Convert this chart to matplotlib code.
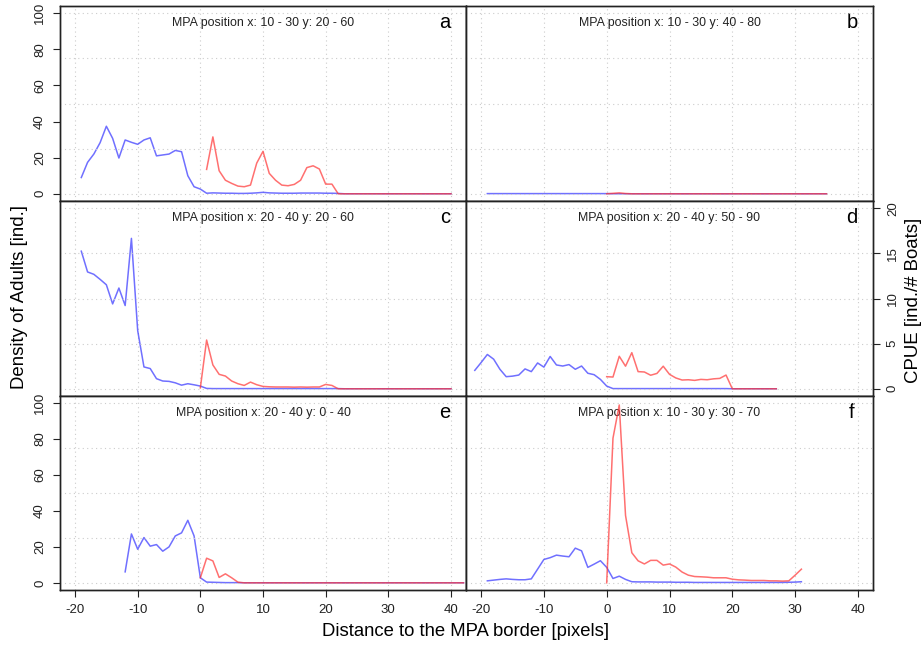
import numpy as np
import matplotlib
matplotlib.use("Agg")
import matplotlib.pyplot as plt

plt.rcParams['font.family'] = ['Liberation Sans', 'DejaVu Sans']

# ---------------- data ----------------
panel_letters = ["a", "b", "c", "d", "e", "f"]
panel_titles = [
    "MPA position x: 10 - 30 y: 20 - 60",
    "MPA position x: 10 - 30 y: 40 - 80",
    "MPA position x: 20 - 40 y: 20 - 60",
    "MPA position x: 20 - 40 y: 50 - 90",
    "MPA position x: 20 - 40 y: 0 - 40",
    "MPA position x: 10 - 30 y: 30 - 70",
]

# density of adults (left axis) : start distance + values
dens_a_start = -19
dens_a = [9, 17.4, 22, 28.3, 37.4, 30.7, 19.8, 29.8, 28.5, 27.4, 29.8, 31, 21, 21.5, 22, 24, 23.3, 10, 3.9, 2.6,
          0.3, 0.5, 0.4, 0.3, 0.3, 0.2, 0.2, 0.3, 0.5, 0.8, 0.5, 0.4, 0.3, 0.3, 0.3, 0.4, 0.4, 0.4, 0.4, 0.3, 0.3, 0.2,
          0, 0, 0, 0, 0, 0, 0, 0, 0, 0, 0, 0, 0, 0, 0, 0, 0, 0]
cpue_a_start = 1
cpue_a = [2.7, 6.3, 2.55, 1.5, 1.15, 0.85, 0.78, 0.96, 3.4, 4.7, 2.26, 1.5, 0.96, 0.89, 1.04, 1.5, 2.9, 3.1, 2.74,
          1.07, 1.07, 0, 0, 0, 0, 0, 0, 0, 0, 0, 0, 0, 0, 0, 0, 0, 0, 0, 0, 0]

dens_b_start = -19
dens_b = [0.1, 0.1, 0.1, 0.1, 0.1, 0.1, 0.1, 0.1, 0.1, 0.1, 0.1, 0.1, 0.1, 0.1, 0.1, 0.1, 0.1, 0.1, 0.1, 0.1,
          0, 0, 0, 0, 0, 0, 0, 0, 0, 0, 0, 0, 0, 0, 0, 0, 0, 0, 0, 0, 0, 0, 0, 0, 0, 0, 0, 0, 0, 0, 0, 0, 0, 0, 0]
cpue_b_start = 0
cpue_b = [0, 0.05, 0.1, 0.03, 0, 0, 0, 0, 0, 0, 0, 0, 0, 0, 0, 0, 0, 0, 0, 0, 0, 0, 0, 0, 0, 0, 0, 0, 0, 0,
          0, 0, 0, 0, 0, 0]

dens_c_start = -19
dens_c = [76.2, 64.7, 63.4, 60.6, 57.6, 47, 55.8, 46.1, 83.3, 32.2, 12.1, 11.2, 5.6, 4.3, 4.1, 3.3, 2.0, 2.8, 2.2,
          1.5, 0.2, 0.1, 0.1, 0.1, 0.1, 0.1, 0.1, 0.1, 0.1, 0.1, 0.1, 0.1, 0.1, 0.1, 0.1, 0.1, 0.1, 0.1, 0.1, 0.1,
          0.1, 0.1, 0, 0, 0, 0, 0, 0, 0, 0, 0, 0, 0, 0, 0, 0, 0, 0, 0, 0]
cpue_c_start = 0
cpue_c = [0.1, 5.4, 2.64, 1.6, 1.41, 0.86, 0.56, 0.37, 0.74, 0.45, 0.26, 0.22, 0.2, 0.2, 0.2, 0.18, 0.2, 0.18,
          0.2, 0.2, 0.48, 0.37, 0, 0, 0, 0, 0, 0, 0, 0, 0, 0, 0, 0, 0, 0, 0, 0, 0, 0, 0]

dens_d_start = -21
dens_d = [10.2, 14.5, 19, 16.4, 10.8, 6.7, 7, 7.6, 11, 9.5, 14.3, 12, 17.9, 13.2, 12.6, 13.4, 10.8, 12.6, 8.6, 7.8,
          5.2, 1.5, 0.1, 0.1, 0.1, 0.1, 0.1, 0.1, 0.1, 0.1, 0.1, 0.1, 0.1, 0.1, 0.1, 0.1, 0.1, 0.1, 0.1, 0.1, 0.1,
          0, 0, 0, 0, 0, 0, 0, 0]
cpue_d_start = 0
cpue_d = [1.34, 1.3, 3.6, 2.5, 4.0, 1.9, 1.86, 1.5, 1.7, 2.5, 1.6, 1.2, 0.97, 1.0, 0.93, 1.04, 1.0, 1.1, 1.15,
          1.52, 0, 0, 0, 0, 0, 0, 0, 0]

dens_e_start = -12
dens_e = [6.1, 27.2, 18.7, 25.2, 20.4, 21.3, 17.6, 20, 26.1, 27.8, 34.8, 26.1, 2.8, 0.4, 0.3, 0.2, 0.1, 0.1, 0.1,
          0, 0, 0, 0, 0, 0, 0, 0, 0, 0, 0, 0, 0, 0, 0, 0, 0, 0, 0, 0, 0, 0, 0, 0, 0, 0, 0, 0, 0, 0, 0, 0, 0, 0, 0, 0]
cpue_e_start = 0
cpue_e = [0.56, 2.74, 2.44, 0.6, 1.0, 0.56, 0.07, 0, 0, 0, 0, 0, 0, 0, 0, 0, 0, 0, 0, 0, 0, 0, 0, 0, 0, 0, 0,
          0, 0, 0, 0, 0, 0, 0, 0, 0, 0, 0, 0, 0, 0, 0, 0]

dens_f_start = -19
dens_f = [1.1, 1.5, 1.9, 2.2, 1.9, 1.7, 1.7, 2.2, 7.6, 13, 14, 15.4, 14.9, 14.5, 19.3, 17.8, 8.6, 10.4, 12.3, 8.6,
          2.4, 3.7, 1.9, 0.6, 0.5, 0.5, 0.5, 0.4, 0.4, 0.4, 0.3, 0.3, 0.3, 0.2, 0.2, 0.2, 0.2, 0.2, 0.2, 0.2, 0.2,
          0.2, 0.2, 0.2, 0.2, 0.2, 0.2, 0.2, 0.3, 0.4, 0.6]
cpue_f_start = 0
cpue_f = [0, 16.1, 19.8, 7.5, 3.35, 2.45, 2.1, 2.5, 2.5, 1.97, 2.1, 1.75, 1.2, 0.85, 0.7, 0.67, 0.63, 0.56, 0.56,
          0.56, 0.4, 0.33, 0.3, 0.26, 0.26, 0.26, 0.22, 0.22, 0.19, 0.22, 0.85, 1.52]

dens_series = [(dens_a_start, dens_a), (dens_b_start, dens_b), (dens_c_start, dens_c),
               (dens_d_start, dens_d), (dens_e_start, dens_e), (dens_f_start, dens_f)]
cpue_series = [(cpue_a_start, cpue_a), (cpue_b_start, cpue_b), (cpue_c_start, cpue_c),
               (cpue_d_start, cpue_d), (cpue_e_start, cpue_e), (cpue_f_start, cpue_f)]

x_ticks = [-20, -10, 0, 10, 20, 30, 40]
dens_ticks = [0, 20, 40, 60, 80, 100]
cpue_ticks = [0, 5, 10, 15, 20]

# ---------------- figure ----------------
W, H = 924, 645
fig = plt.figure(figsize=(W / 100, H / 100), dpi=100)

col_x = [60, 466]
col_w = [406, 407]
row_y = [6, 201, 396]
row_h = [195, 195, 194]

blue = (0.25, 0.25, 1.0, 0.75)
red = (1.0, 0.2, 0.2, 0.7)
frame_col = "#222222"
text_col = "#222222"
tick_fs = 9.5

for i in range(6):
    r, c = divmod(i, 2)
    left = col_x[c] / W
    bottom = 1 - (row_y[r] + row_h[r]) / H
    ax = fig.add_axes([left, bottom, col_w[c] / W, row_h[r] / H])
    ax2 = ax.twinx()
    ax.set_xlim(-22.4, 42.4)
    ax.set_ylim(-4, 104)
    ax2.set_ylim(-0.8, 20.8)

    # grid (dotted)
    for gx in x_ticks:
        ax.axvline(gx, color="#cccccc", lw=0.8, ls=(0, (1, 3)), zorder=0)
    for gy in cpue_ticks:
        ax2.axhline(gy, color="#cccccc", lw=0.8, ls=(0, (1, 3)), zorder=0)

    ds, dv = dens_series[i]
    cs, cv = cpue_series[i]
    ax.plot(np.arange(ds, ds + len(dv)), dv, color=blue, lw=1.1, zorder=3)
    ax2.plot(np.arange(cs, cs + len(cv)), cv, color=red, lw=1.1, zorder=3)

    ax.text(0.5, 0.913, panel_titles[i], transform=ax.transAxes, ha="center", va="center",
            fontsize=8.9, color=text_col)
    ax.text(0.948, 0.913, panel_letters[i], transform=ax.transAxes, ha="center", va="center",
            fontsize=14.5, color="black")

    for a in (ax, ax2):
        for s in a.spines.values():
            s.set_color(frame_col)
            s.set_linewidth(1.0)

    # x ticks
    if r == 2:
        ax.set_xticks(x_ticks)
        ax.set_xticklabels([str(t) for t in x_ticks], fontsize=tick_fs, color=text_col)
        ax.tick_params(axis="x", length=5, width=0.8, color=frame_col, pad=5)
    else:
        ax.set_xticks([])
    # left ticks
    if c == 0 and r in (0, 2):
        ax.set_yticks(dens_ticks)
        ax.set_yticklabels([str(t) for t in dens_ticks], fontsize=tick_fs, color=text_col,
                           rotation=90, va="center")
        ax.tick_params(axis="y", length=5, width=0.8, color=frame_col, pad=5)
    else:
        ax.set_yticks([])
    # right ticks
    if c == 1 and r == 1:
        ax2.set_yticks(cpue_ticks)
        ax2.set_yticklabels([str(t) for t in cpue_ticks], fontsize=tick_fs, color=text_col,
                            rotation=90, va="center")
        ax2.tick_params(axis="y", length=5, width=0.8, color=frame_col, pad=5)
    else:
        ax2.set_yticks([])

fig.text(20 / W, 1 - 297 / H, "Density of Adults [ind.]", rotation=90, ha="center", va="center",
         fontsize=13.4, color="black")
fig.text(913 / W, 1 - 300 / H, "CPUE [ind./# Boats]", rotation=90, ha="center", va="center",
         fontsize=13.4, color="black")
fig.text(466 / W, 1 - 632 / H, "Distance to the MPA border [pixels]", ha="center", va="center",
         fontsize=13.3, color="black")

fig.savefig("out.png", dpi=100, facecolor="white")
